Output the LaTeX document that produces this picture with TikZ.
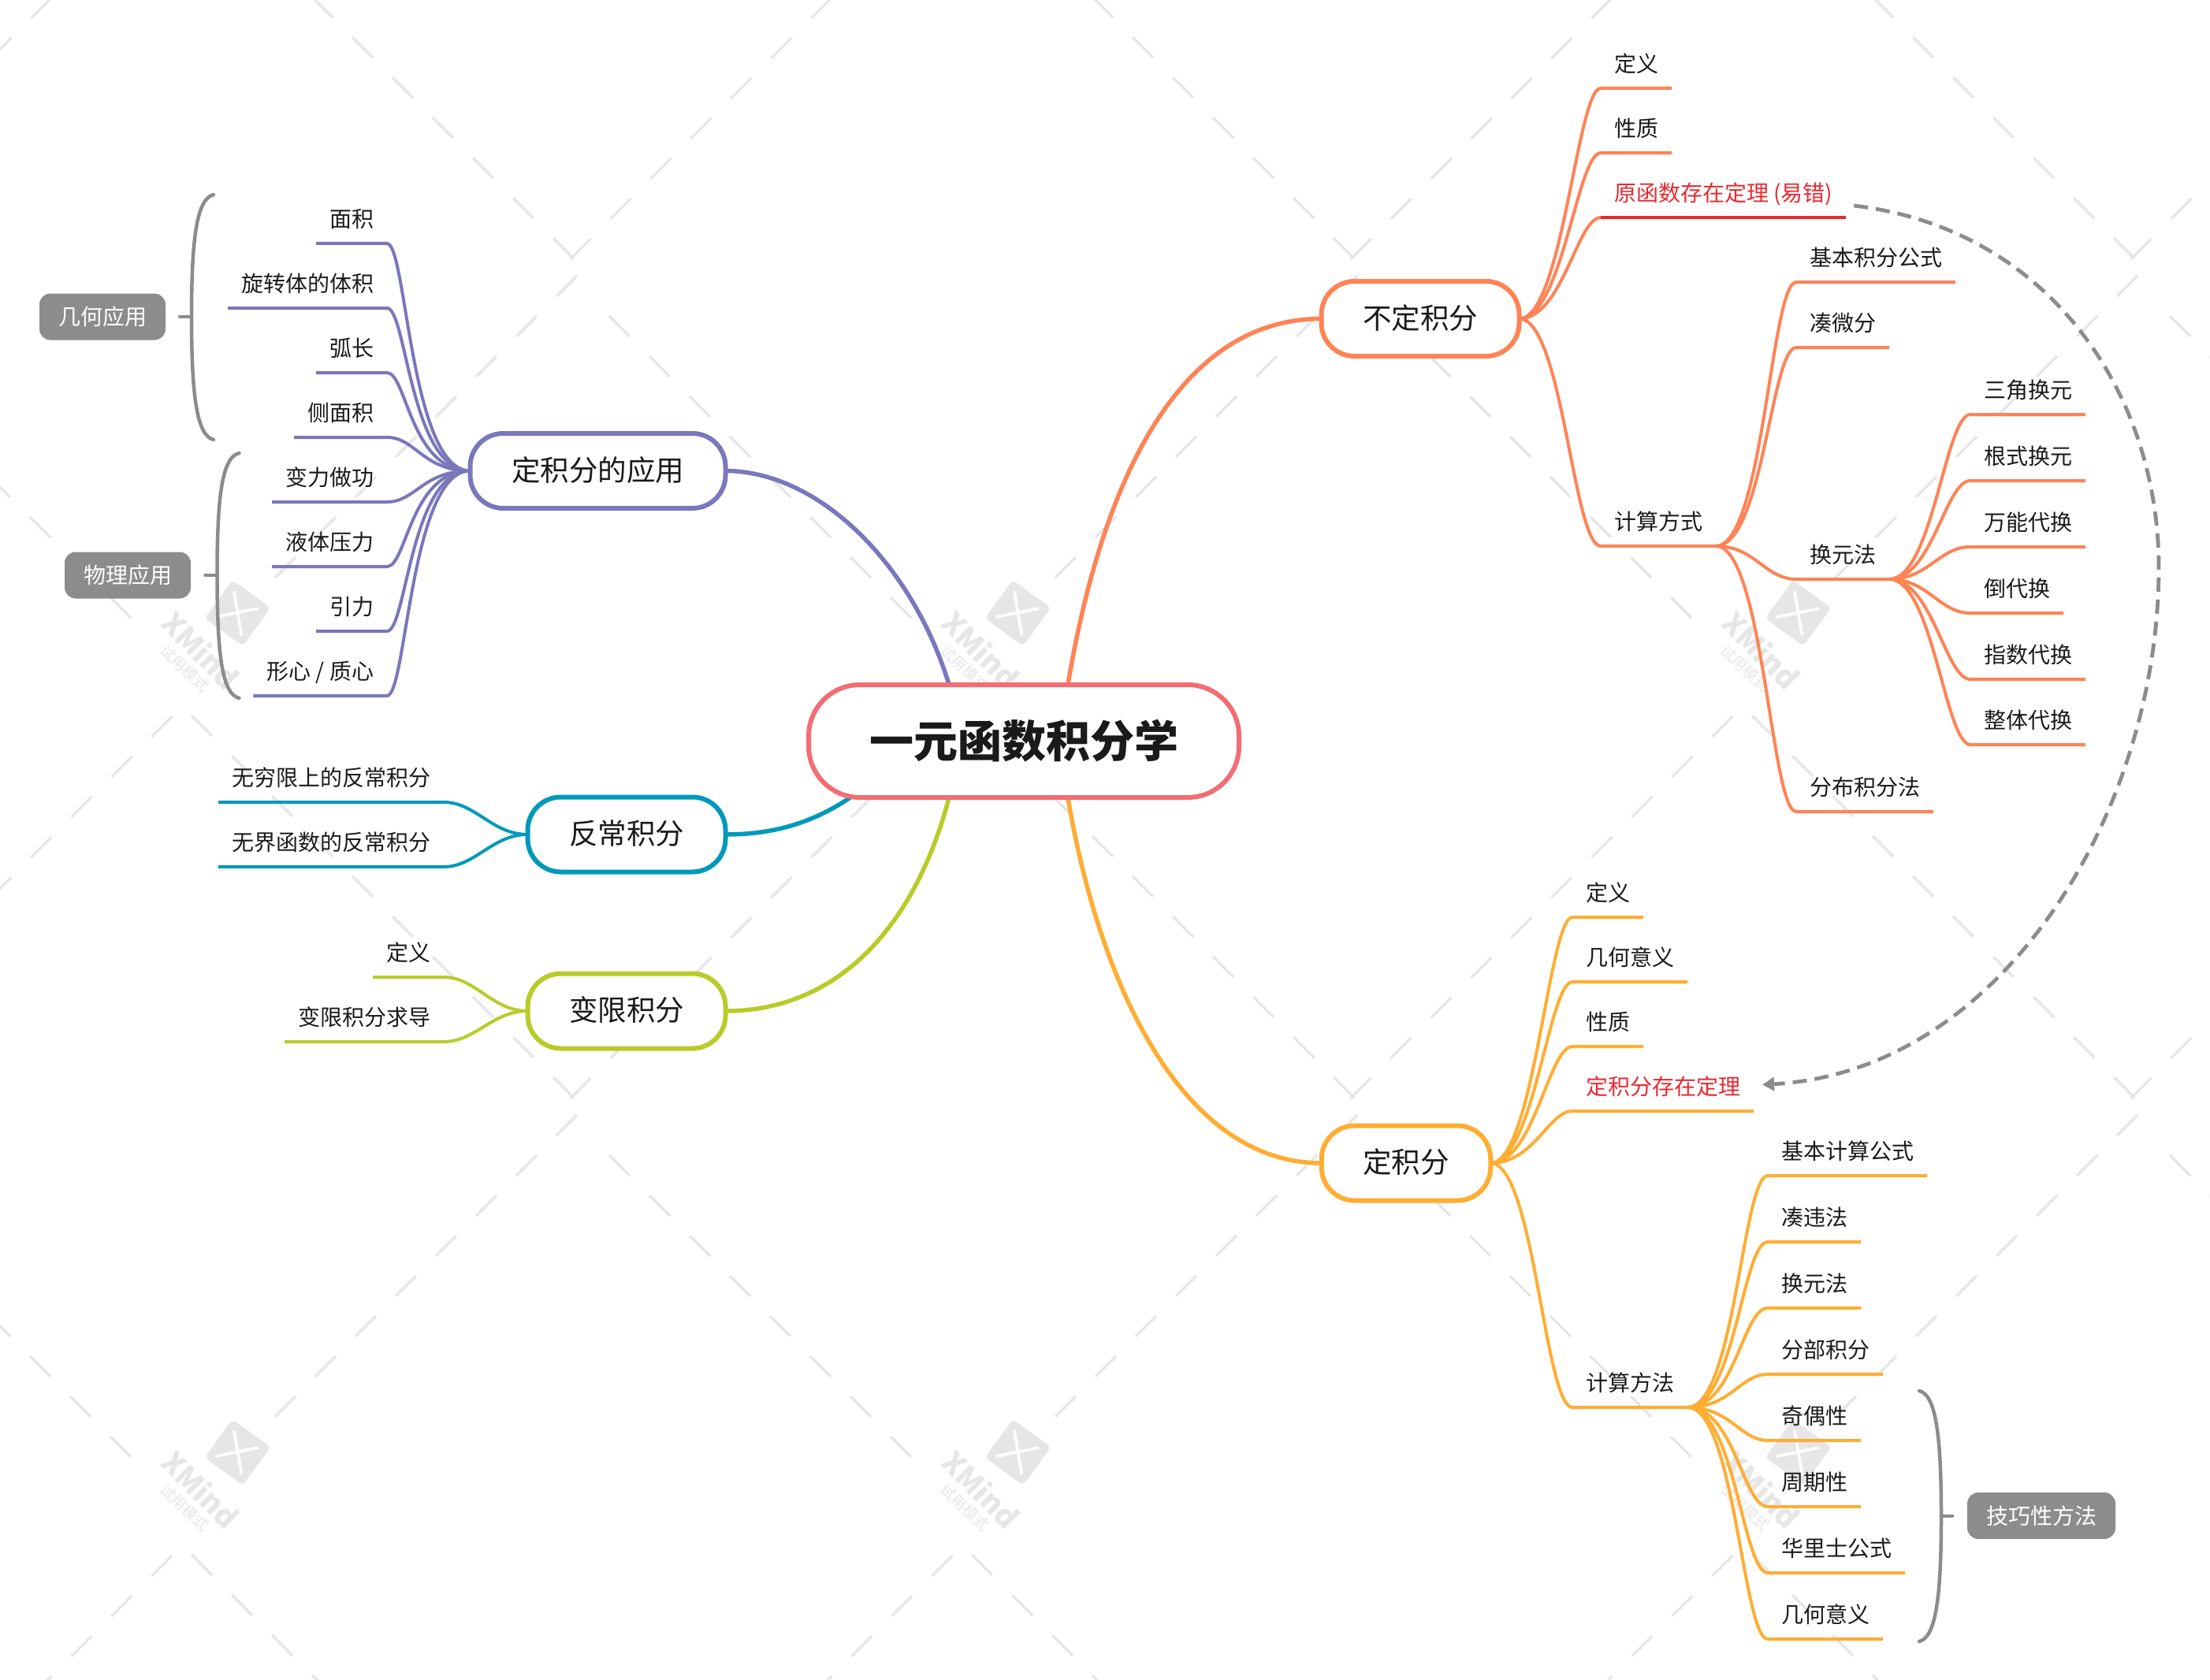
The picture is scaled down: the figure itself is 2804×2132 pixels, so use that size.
\documentclass[tikz,border=0pt]{standalone}
\usepackage{fontspec}
\setmainfont{Noto Sans CJK SC}
\usetikzlibrary{arrows.meta, backgrounds}

\definecolor{maincolor}{HTML}{F26D74}
\definecolor{indefcolor}{HTML}{FF8355}
\definecolor{defcolor}{HTML}{FFAD33}
\definecolor{applycolor}{HTML}{7A77BD}
\definecolor{impropercolor}{HTML}{0099BB}
\definecolor{limitcolor}{HTML}{B7CC28}
\definecolor{notecolor}{HTML}{8C8C8C}
\definecolor{redcolor}{HTML}{E8282F}
\definecolor{inkcolor}{HTML}{1A1A1A}
\definecolor{markcolor}{HTML}{E6E6E6}

\tikzstyle{mainbox} = [rectangle, rounded corners=65pt, minimum width=546pt, minimum height=143pt, line width=6pt, draw=maincolor, fill=white, outer sep=0pt, text=inkcolor, text height=48.8pt, text depth=7.2pt, font=\fontsize{56pt}{60pt}\selectfont\bfseries]
\tikzstyle{topic} = [rectangle, rounded corners=42pt, minimum height=95pt, inner xsep=52.5pt, inner ysep=0pt, line width=6pt, fill=white, outer sep=0pt, text=inkcolor, text height=31.15pt, text depth=5.35pt, font=\fontsize{36.5pt}{40pt}\selectfont]
\tikzstyle{leaf} = [rectangle, minimum height=63pt, inner xsep=17pt, inner ysep=0pt, outer sep=0pt, text height=24.6pt, text depth=3.4pt, text=inkcolor, font=\fontsize{28pt}{34pt}\selectfont]
\tikzstyle{rleaf} = [leaf, anchor=south west]
\tikzstyle{lleaf} = [leaf, anchor=south east]
\tikzstyle{note} = [rectangle, rounded corners=14pt, minimum height=59pt, inner xsep=24pt, inner ysep=0pt, fill=notecolor, text=white, font=\fontsize{28pt}{34pt}\selectfont]
\tikzstyle{mainline} = [line width=5.5pt]
\tikzstyle{indefline} = [line width=4pt, draw=indefcolor, line join=round]
\tikzstyle{defline} = [line width=4pt, draw=defcolor, line join=round]
\tikzstyle{applyline} = [line width=4pt, draw=applycolor, line join=round]
\tikzstyle{improperline} = [line width=4pt, draw=impropercolor, line join=round]
\tikzstyle{limitline} = [line width=4pt, draw=limitcolor, line join=round]
\tikzstyle{braceline} = [line width=4.5pt, draw=notecolor, line cap=round]
\tikzstyle{linkline} = [line width=4.8pt, draw=notecolor, dash pattern=on 18pt off 10pt, -{Triangle[length=15pt,width=17pt]}]
\tikzstyle{markdash} = [line width=3.4pt, draw=markcolor]
\tikzset{branch/.style 2 args={to path={.. controls +(#1,0) and +(#2,0) .. (\tikztotarget)}}}

\begin{document}
\begin{tikzpicture}[x=1pt, y=-1pt]
        \useasboundingbox (0,0) rectangle (2804,2132);

        % central topic and main topics
        \node (main) [mainbox] at (1299,940.5) {一元函数积分学};
        \node (indef) [topic, draw=indefcolor] at (1802,404.5) {不定积分};
        \node (defint) [topic, draw=defcolor] at (1784,1476) {定积分};
        \node (apply) [topic, draw=applycolor] at (758.5,597.5) {定积分的应用};
        \node (improper) [topic, draw=impropercolor] at (795,1059) {反常积分};
        \node (varlimit) [topic, draw=limitcolor] at (795,1283) {变限积分};

        % indefinite integral
        \node (indefdef) [rleaf] at (2031,112) {定义};
        \node (indefprop) [rleaf] at (2031,194) {性质};
        \node (primthm) [rleaf, text=redcolor] at (2031,276) {原函数存在定理 (易错)};
        \node (indefcalc) [rleaf] at (2031,693) {计算方式};
        \node (indefbasic) [rleaf] at (2279,358) {基本积分公式};
        \node (indefcomp) [rleaf] at (2279,441) {凑微分};
        \node (indefsub) [rleaf] at (2279,735) {换元法};
        \node (indefparts) [rleaf] at (2279,1030) {分布积分法};
        \node (subtrig) [rleaf] at (2500,526) {三角换元};
        \node (subroot) [rleaf] at (2500,610) {根式换元};
        \node (subuniv) [rleaf] at (2500,694) {万能代换};
        \node (subinv) [rleaf] at (2500,778) {倒代换};
        \node (subexp) [rleaf] at (2500,862) {指数代换};
        \node (subwhole) [rleaf] at (2500,945) {整体代换};

        % definite integral
        \node (defdef) [rleaf] at (1995,1164) {定义};
        \node (defgeo) [rleaf] at (1995,1246) {几何意义};
        \node (defprop) [rleaf] at (1995,1328) {性质};
        \node (defthm) [rleaf, text=redcolor] at (1995,1410) {定积分存在定理};
        \node (defcalc) [rleaf] at (1995,1786) {计算方法};
        \node (calcbasic) [rleaf] at (2243,1492) {基本计算公式};
        \node (calccomp) [rleaf] at (2243,1576) {凑违法};
        \node (calcsub) [rleaf] at (2243,1660) {换元法};
        \node (calcparts) [rleaf] at (2243,1744) {分部积分};
        \node (calcodd) [rleaf] at (2243,1828) {奇偶性};
        \node (calcperiod) [rleaf] at (2243,1912) {周期性};
        \node (calcwallis) [rleaf] at (2243,1996) {华里士公式};
        \node (calcgeo) [rleaf] at (2243,2080) {几何意义};

        % applications
        \node (area) [lleaf] at (491,309) {面积};
        \node (volume) [lleaf] at (491,391) {旋转体的体积};
        \node (arclen) [lleaf] at (491,473) {弧长};
        \node (lateral) [lleaf] at (491,555) {侧面积};
        \node (work) [lleaf] at (491,637) {变力做功};
        \node (pressure) [lleaf] at (491,719) {液体压力};
        \node (gravity) [lleaf] at (491,801) {引力};
        \node (centroid) [lleaf] at (491,883) {形心 / 质心};

        % improper and variable limit
        \node (infinite) [lleaf] at (563,1018) {无穷限上的反常积分};
        \node (unbounded) [lleaf] at (563,1100) {无界函数的反常积分};
        \node (limitdef) [lleaf] at (563,1240) {定义};
        \node (limitderiv) [lleaf] at (563,1322) {变限积分求导};

        % notes beside the braces
        \node (geonote) [note] at (130,402) {几何应用};
        \node (physnote) [note] at (162,730) {物理应用};
        \node (tricknote) [note] at (2590,1923.5) {技巧性方法};

        \coordinate (geotop) at (271,247);
        \coordinate (geomid) at (243,402);
        \coordinate (geobot) at (271,558);
        \coordinate (physstart) at (303.5,575);
        \coordinate (physmid) at (275.5,730);
        \coordinate (physbot) at (303.5,886);
        \coordinate (tricktop) at (2435,1765);
        \coordinate (trickmid) at (2463,1924);
        \coordinate (trickbot) at (2435,2083);
        \coordinate (linkstart) at ([shift={(10,-15)}]primthm.south east);
        \coordinate (linkturn) at (2739,720);
        \coordinate (linkend) at ([shift={(11,-2)}]defthm.east);

        \begin{scope}[on background layer]

        % trial watermark, dashes
        \begin{scope}
        \clip (0,0) rectangle (2804,2132);
        \foreach \wx in {301,1291,2281,3271} {
            \foreach \wy in {-287,778,1843} {
                \begin{scope}[shift={(\wx,\wy)}]
                \foreach \k in {0,...,7} {
                    \draw [markdash] ({48+51*\k},{-45-51*\k}) -- ++(26,-26);
                    \draw [markdash] ({-135-51*\k},{6-51*\k}) -- ++(-26,-26);
                }
                \foreach \k in {0,...,9} {
                    \draw [markdash] ({-82.5-51*\k},{131+51*\k}) -- ++(-26,26);
                    \draw [markdash] ({-58+51*\k},{130+51*\k}) -- ++(26,26);
                }
                \end{scope}
            }
        }
        \end{scope}

        % trial watermark, logos
        \foreach \wx in {301,1291,2281} {
            \foreach \wy in {778,1843} {
                \begin{scope}[shift={(\wx,\wy)}]
                \node (marklogo\wx\wy) [rectangle, rounded corners=6pt, minimum size=60pt, inner sep=0pt, fill=markcolor, rotate=-36] at (0.5,0) {};
                \draw [line width=3.6pt, white, line cap=round] (-4,-26.7) -- (5.3,27.3);
                \draw [line width=3.6pt, white, line cap=round] (-26.7,5) -- (26,-5.7);
                \node (markname\wx\wy) [rotate=-45, text=markcolor, inner sep=0pt, font=\fontsize{37.5pt}{40pt}\selectfont\bfseries] at (-46,47) {XMind};
                \node (marknote\wx\wy) [rotate=-43, text=markcolor, inner sep=0pt, font=\fontsize{19pt}{22pt}\selectfont] at (-67,70) {试用模式};
                \end{scope}
            }
        }

        % connections of the central topic
        \draw [mainline, draw=applycolor] (apply.east) .. controls (1040,598) and (1158,717) .. (main.143);
        \draw [mainline, draw=indefcolor] (main.52.7) .. controls (1400,600) and (1500,404.5) .. (indef.west);
        \draw [mainline, draw=defcolor] (main.-52.7) .. controls (1395,1250) and (1500,1476) .. (defint.west);
        \draw [mainline, draw=limitcolor] (varlimit.east) .. controls (1060,1283) and (1160,1180) .. (main.-143);
        \draw [mainline, draw=impropercolor] (improper.east) .. controls (980,1059) and (1030,1045) .. (main.-162.7);

        % indefinite integral branches
        \draw [indefline, branch={55}{-30}] (indef.east) to (indefdef.south west) -- (indefdef.south east);
        \draw [indefline, branch={55}{-30}] (indef.east) to (indefprop.south west) -- (indefprop.south east);
        \draw [indefline, branch={55}{-30}] (indef.east) to (primthm.south west);
        \draw [line width=4pt, draw=redcolor] (primthm.south west) -- (primthm.south east);
        \draw [indefline, branch={55}{-35}] (indef.east) to (indefcalc.south west) -- (indefcalc.south east);
        \draw [indefline, branch={60}{-32}] (indefcalc.south east) to (indefbasic.south west) -- (indefbasic.south east);
        \draw [indefline, branch={60}{-32}] (indefcalc.south east) to (indefcomp.south west) -- (indefcomp.south east);
        \draw [indefline, branch={50}{-40}] (indefcalc.south east) to (indefsub.south west) -- (indefsub.south east);
        \draw [indefline, branch={60}{-32}] (indefcalc.south east) to (indefparts.south west) -- (indefparts.south east);
        \draw [indefline, branch={55}{-32}] (indefsub.south east) to (subtrig.south west) -- (subtrig.south east);
        \draw [indefline, branch={55}{-32}] (indefsub.south east) to (subroot.south west) -- (subroot.south east);
        \draw [indefline, branch={50}{-40}] (indefsub.south east) to (subuniv.south west) -- (subuniv.south east);
        \draw [indefline, branch={50}{-40}] (indefsub.south east) to (subinv.south west) -- (subinv.south east);
        \draw [indefline, branch={55}{-32}] (indefsub.south east) to (subexp.south west) -- (subexp.south east);
        \draw [indefline, branch={55}{-32}] (indefsub.south east) to (subwhole.south west) -- (subwhole.south east);

        % definite integral branches
        \draw [defline, branch={55}{-30}] (defint.east) to (defdef.south west) -- (defdef.south east);
        \draw [defline, branch={55}{-30}] (defint.east) to (defgeo.south west) -- (defgeo.south east);
        \draw [defline, branch={55}{-30}] (defint.east) to (defprop.south west) -- (defprop.south east);
        \draw [defline, branch={55}{-30}] (defint.east) to (defthm.south west) -- (defthm.south east);
        \draw [defline, branch={55}{-35}] (defint.east) to (defcalc.south west) -- (defcalc.south east);
        \draw [defline, branch={60}{-32}] (defcalc.south east) to (calcbasic.south west) -- (calcbasic.south east);
        \draw [defline, branch={60}{-32}] (defcalc.south east) to (calccomp.south west) -- (calccomp.south east);
        \draw [defline, branch={60}{-32}] (defcalc.south east) to (calcsub.south west) -- (calcsub.south east);
        \draw [defline, branch={55}{-35}] (defcalc.south east) to (calcparts.south west) -- (calcparts.south east);
        \draw [defline, branch={55}{-35}] (defcalc.south east) to (calcodd.south west) -- (calcodd.south east);
        \draw [defline, branch={60}{-32}] (defcalc.south east) to (calcperiod.south west) -- (calcperiod.south east);
        \draw [defline, branch={60}{-32}] (defcalc.south east) to (calcwallis.south west) -- (calcwallis.south east);
        \draw [defline, branch={60}{-32}] (defcalc.south east) to (calcgeo.south west) -- (calcgeo.south east);

        % application branches
        \draw [applyline, branch={-76}{25}] (apply.west) to (area.south east) -- (area.south west);
        \draw [applyline, branch={-76}{25}] (apply.west) to (volume.south east) -- (volume.south west);
        \draw [applyline, branch={-76}{25}] (apply.west) to (arclen.south east) -- (arclen.south west);
        \draw [applyline, branch={-60}{36}] (apply.west) to (lateral.south east) -- (lateral.south west);
        \draw [applyline, branch={-60}{36}] (apply.west) to (work.south east) -- (work.south west);
        \draw [applyline, branch={-76}{25}] (apply.west) to (pressure.south east) -- (pressure.south west);
        \draw [applyline, branch={-76}{25}] (apply.west) to (gravity.south east) -- (gravity.south west);
        \draw [applyline, branch={-76}{25}] (apply.west) to (centroid.south east) -- (centroid.south west);

        % improper and variable limit branches
        \draw [improperline, branch={-45}{40}] (improper.west) to (infinite.south east) -- (infinite.south west);
        \draw [improperline, branch={-45}{40}] (improper.west) to (unbounded.south east) -- (unbounded.south west);
        \draw [limitline, branch={-45}{40}] (varlimit.west) to (limitdef.south east) -- (limitdef.south west);
        \draw [limitline, branch={-45}{40}] (varlimit.west) to (limitderiv.south east) -- (limitderiv.south west);

        % braces
        \draw [braceline] (geotop) .. controls (250,252) and (243,300) .. (geomid) .. controls (243,504) and (250,553) .. (geobot);
        \draw [braceline] (geomid) -- ++(-15,0);
        \draw [braceline] (physstart) .. controls (282,580) and (275.5,628) .. (physmid) .. controls (275.5,832) and (282,881) .. (physbot);
        \draw [braceline] (physmid) -- ++(-15,0);
        \draw [braceline] (tricktop) .. controls (2456,1770) and (2463,1820) .. (trickmid) .. controls (2463,2028) and (2456,2078) .. (trickbot);
        \draw [braceline] (trickmid) -- ++(14,0);

        % link between the two theorems
        \draw [linkline] (linkstart) .. controls (2600,290) and (2739,500) .. (linkturn) .. controls (2739,1030) and (2540,1360) .. (linkend);

        \end{scope}
\end{tikzpicture}
\end{document}
